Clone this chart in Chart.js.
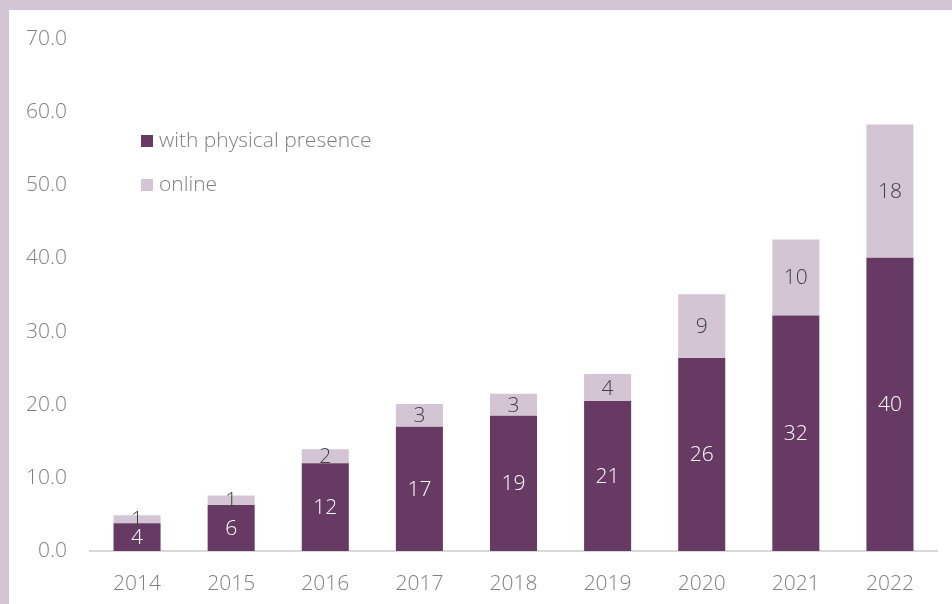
<!DOCTYPE html>
<html>
<head>
<meta charset="utf-8">
<script src="https://cdn.jsdelivr.net/npm/chart.js@4/dist/chart.umd.min.js"></script>
<style>
  html, body { margin: 0; padding: 0; }
  body { width: 952px; height: 604px; background: #d4c5d4; position: relative; overflow: hidden; }
  #panel { position: absolute; left: 9px; top: 10px; width: 943px; height: 594px; background: #ffffff; }
  #chart { display: block; }
</style>
</head>
<body>
<div id="panel"><canvas id="chart" width="943" height="594"></canvas></div>
<script>
// Years shown on the horizontal axis
const years = ['2014', '2015', '2016', '2017', '2018', '2019', '2020', '2021', '2022'];
// Stack segments
const physical = [3.8, 6.3, 12.0, 17.0, 18.5, 20.5, 26.4, 32.2, 40.1];
const online = [1.1, 1.3, 1.9, 3.1, 3.0, 3.7, 8.7, 10.4, 18.2];
// Legend texts
const seriesNames = ['with physical presence', 'online'];
// Vertical axis range
const yMax = 70;
const yStep = 10;

const FONT = '"Open Sans", "Noto Sans", sans-serif';
const PURPLE = '#673a64';
const LILAC = '#d4c5d4';
const GREY = '#7f7f7f';
const SIZE = 21;

// Writes the rounded value in the middle of each stack segment
const segmentLabels = {
  id: 'segmentLabels',
  afterDatasetsDraw(chart) {
    const ctx = chart.ctx;
    ctx.save();
    ctx.font = '300 ' + SIZE + 'px ' + FONT;
    ctx.textAlign = 'center';
    ctx.textBaseline = 'middle';
    chart.data.datasets.forEach((ds, di) => {
      const meta = chart.getDatasetMeta(di);
      ctx.fillStyle = di === 0 ? '#ffffff' : '#404040';
      meta.data.forEach((bar, i) => {
        const p = bar.getProps(['x', 'y', 'base'], true);
        ctx.fillText(String(Math.round(ds.data[i])), p.x, (p.y + p.base) / 2 + 1);
      });
    });
    ctx.restore();
  }
};

// Legend placed inside the plot, upper left
const innerLegend = {
  id: 'innerLegend',
  afterDraw(chart) {
    const ctx = chart.ctx;
    ctx.save();
    ctx.font = '300 ' + SIZE + 'px ' + FONT;
    ctx.textAlign = 'left';
    ctx.textBaseline = 'middle';
    chart.data.datasets.forEach((ds, di) => {
      const cy = 131 + di * 44;
      ctx.fillStyle = ds.backgroundColor;
      ctx.fillRect(132, cy - 6, 12, 12);
      ctx.fillStyle = GREY;
      ctx.fillText(ds.label, 150, cy);
    });
    ctx.restore();
  }
};

new Chart(document.getElementById('chart'), {
  type: 'bar',
  data: {
    labels: years,
    datasets: [
      { label: seriesNames[0], data: physical, backgroundColor: PURPLE },
      { label: seriesNames[1], data: online, backgroundColor: LILAC }
    ]
  },
  options: {
    responsive: false,
    animation: false,
    events: [],
    layout: { padding: { top: 29, right: 15, left: 0, bottom: 0 } },
    datasets: { bar: { barPercentage: 0.5, categoryPercentage: 1 } },
    plugins: { legend: { display: false }, tooltip: { enabled: false } },
    scales: {
      x: {
        stacked: true,
        grid: { display: false, drawTicks: false },
        border: { display: true, color: '#d9d9d9', width: 2 },
        ticks: { color: GREY, font: { family: FONT, size: SIZE, weight: 300 }, padding: 20, maxRotation: 0 },
        afterFit(scale) { scale.height = 53; scale.paddingLeft = 0; scale.paddingRight = 0; }
      },
      y: {
        stacked: true,
        min: 0,
        max: yMax,
        grid: { display: false, drawTicks: false },
        border: { display: false },
        ticks: {
          stepSize: yStep,
          color: GREY,
          font: { family: FONT, size: SIZE, weight: 300 },
          padding: 23,
          callback: v => Number(v).toFixed(1)
        },
        afterFit(scale) { scale.width = 81; scale.paddingTop = 0; scale.paddingBottom = 0; }
      }
    }
  },
  plugins: [segmentLabels, innerLegend]
});
</script>
</body>
</html>
